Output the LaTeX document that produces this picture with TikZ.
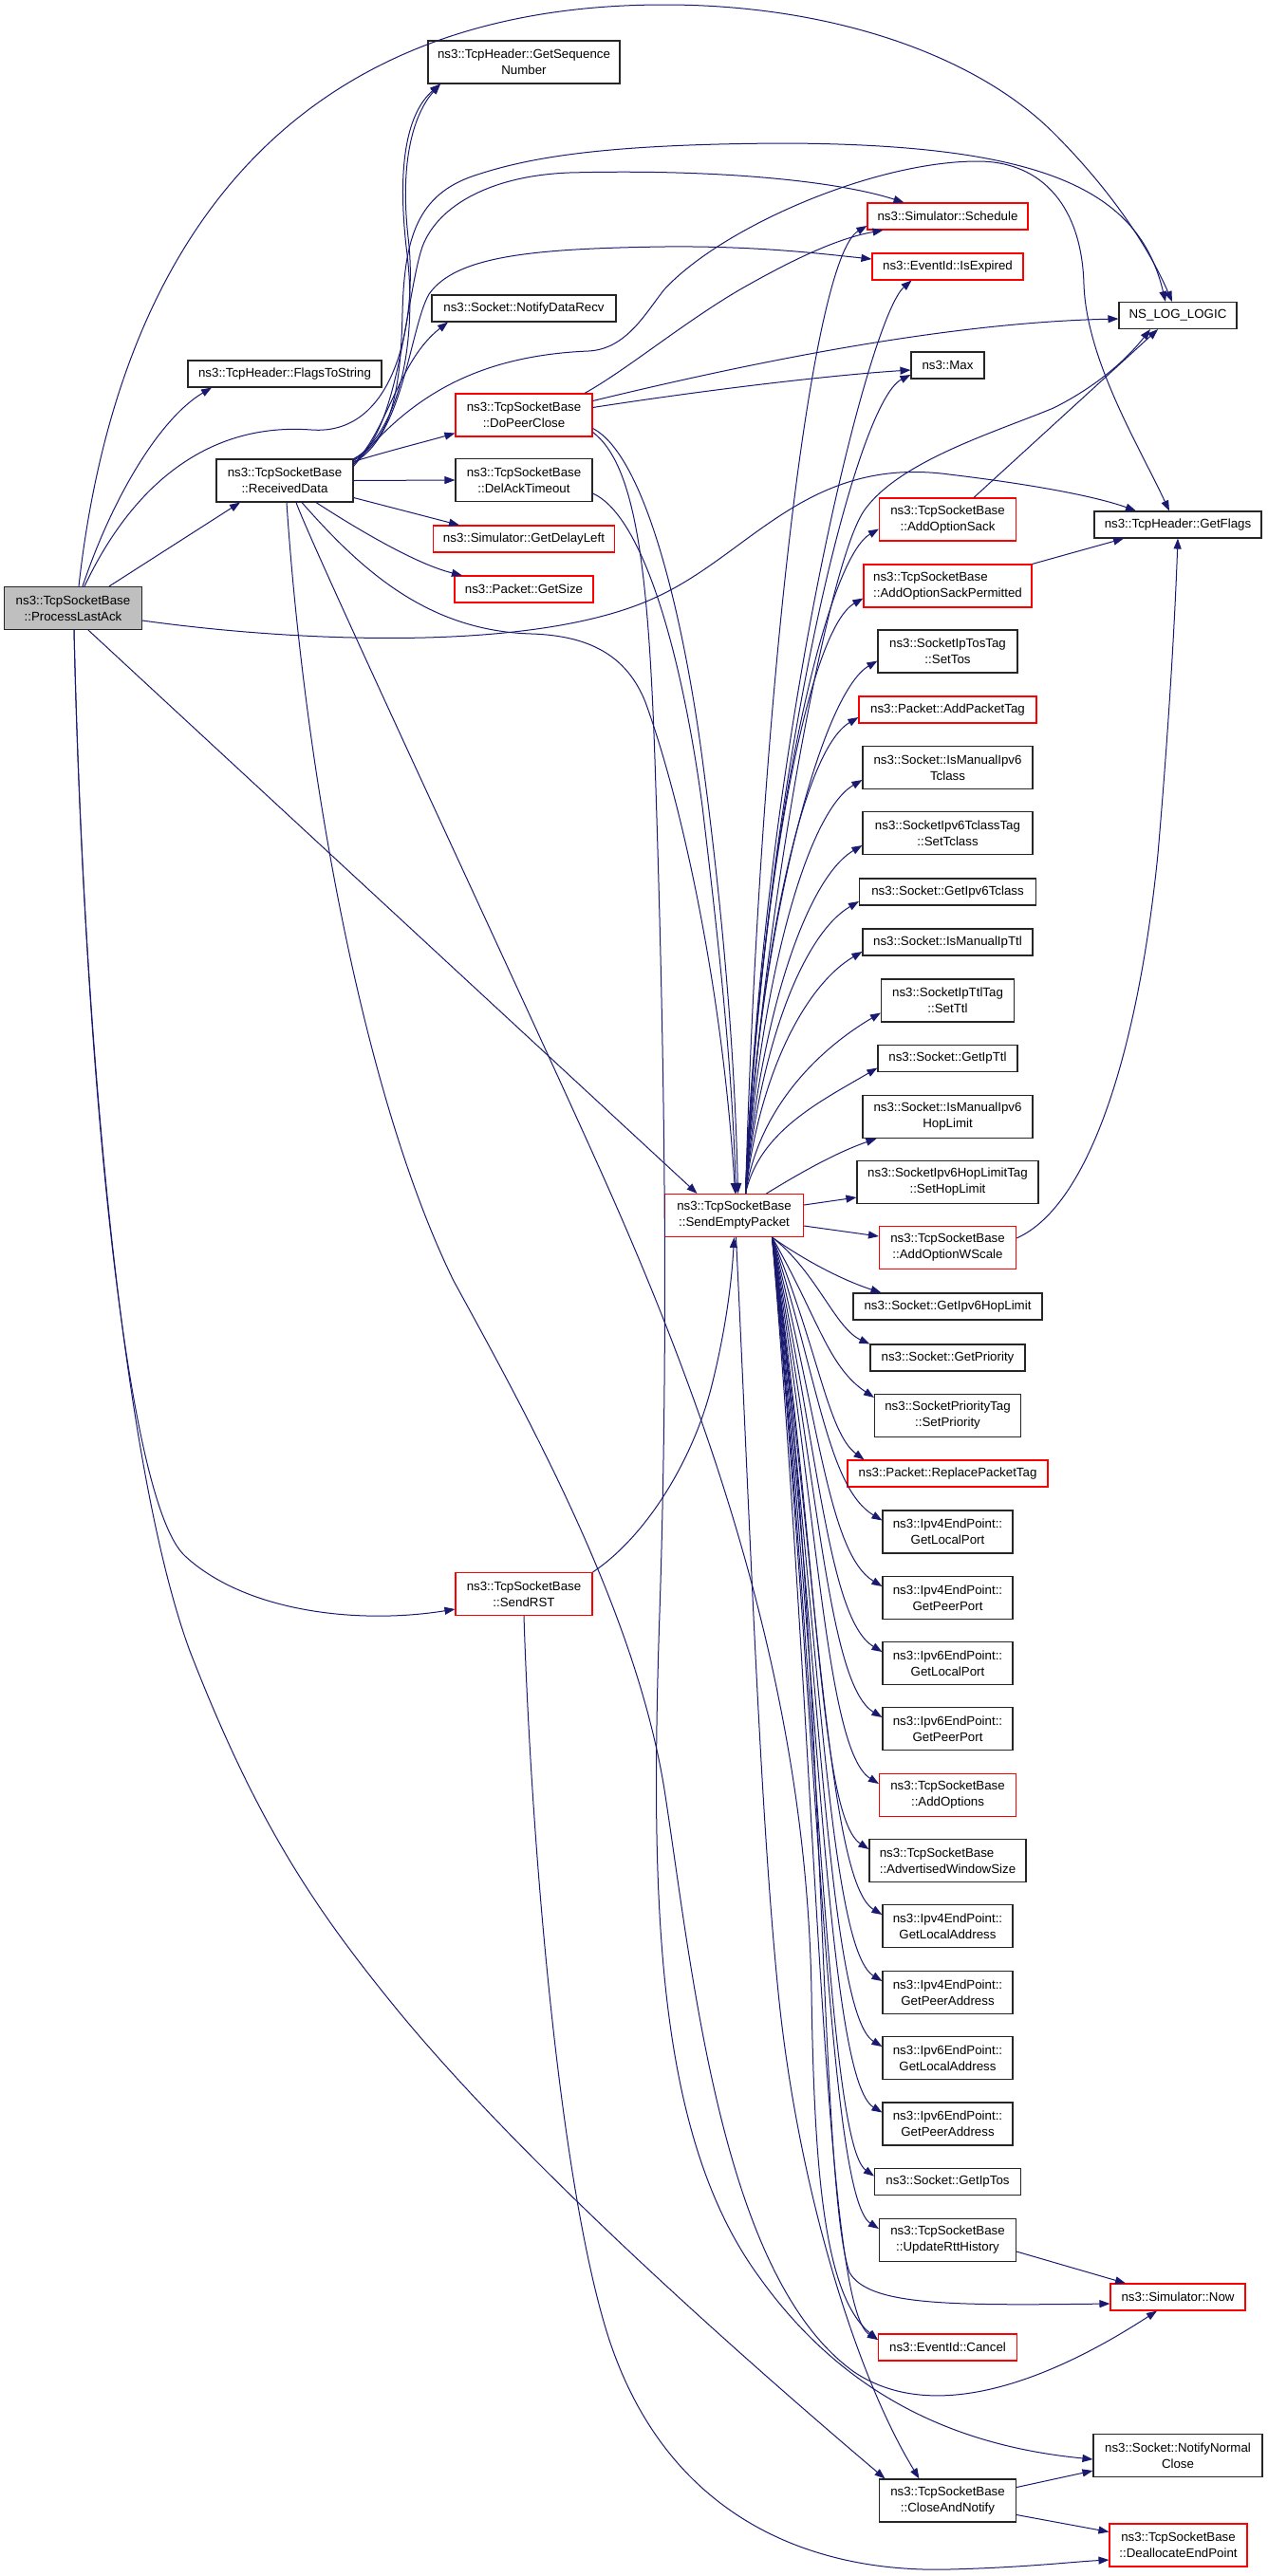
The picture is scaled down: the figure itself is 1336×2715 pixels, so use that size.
\documentclass[tikz,border=0pt]{standalone}
\usepackage{fontspec}
\setmainfont{Liberation Sans}
\usetikzlibrary{arrows.meta}
\definecolor{eblue}{RGB}{25,25,112}
\definecolor{bred}{RGB}{255,0,0}
\definecolor{bgray}{RGB}{191,191,191}
\newcommand{\nf}{\fontsize{13.3pt}{17pt}\selectfont}
\begin{document}
\begin{tikzpicture}[x=1pt,y=-1pt,
  box/.style={draw=black!85, line width=1.1pt, fill=white, inner sep=0pt, align=center, minimum height=28pt, font=\nf},
  two/.style={minimum height=45pt},
  rbox/.style={box, draw=bred},
  ar/.style={draw=eblue, line width=1pt, -{Triangle[length=11pt,width=8pt]}}]
\useasboundingbox (0,0) rectangle (1336,2715);

% ---- column 0-2
\node[box,fill=bgray,two,minimum width=145pt] (PLA) at (77,641) {ns3::TcpSocketBase\\::ProcessLastAck};
\node[box,minimum width=204pt] (FTS) at (300,394) {ns3::TcpHeader::FlagsToString};
\node[box,two,minimum width=144pt] (RD) at (300,506.5) {ns3::TcpSocketBase\\::ReceivedData};
\node[box,two,minimum width=202pt] (GSN) at (552,65.5) {ns3::TcpHeader::GetSequence\\Number};
\node[box,minimum width=194pt] (NDR) at (552,325) {ns3::Socket::NotifyDataRecv};
\node[rbox,two,minimum width=144pt] (DPC) at (552,437.5) {ns3::TcpSocketBase\\::DoPeerClose};
\node[box,two,minimum width=144pt] (DAT) at (552,506) {ns3::TcpSocketBase\\::DelAckTimeout};
\node[rbox,minimum width=191pt] (GDL) at (552,568) {ns3::Simulator::GetDelayLeft};
\node[rbox,minimum width=146pt] (GSZ) at (552,621) {ns3::Packet::GetSize};
\node[rbox,two,minimum width=144pt] (RST) at (552,1680) {ns3::TcpSocketBase\\::SendRST};
\node[rbox,two,minimum width=146pt] (SEP) at (773.5,1281) {ns3::TcpSocketBase\\::SendEmptyPacket};

% ---- column 4
\node[rbox,minimum width=169pt] (SCH) at (998.5,228) {ns3::Simulator::Schedule};
\node[rbox,minimum width=159pt] (ISE) at (998.5,281) {ns3::EventId::IsExpired};
\node[box,minimum width=77pt] (MAX) at (998.5,385) {ns3::Max};
\node[rbox,two,minimum width=144pt] (AOS) at (998.5,547.5) {ns3::TcpSocketBase\\::AddOptionSack};
\node[rbox,two,minimum width=177pt,align=left] (AOSP) at (998.5,617.5) {ns3::TcpSocketBase\\::AddOptionSackPermitted};
\node[box,two,minimum width=147pt] (STOS) at (998.5,686.5) {ns3::SocketIpTosTag\\::SetTos};
\node[rbox,minimum width=187pt] (APT) at (998.5,748) {ns3::Packet::AddPacketTag};
\node[box,two,minimum width=179pt] (IMI6T) at (998.5,809) {ns3::Socket::IsManualIpv6\\Tclass};
\node[box,two,minimum width=179pt] (STC) at (998.5,878) {ns3::SocketIpv6TclassTag\\::SetTclass};
\node[box,minimum width=186pt] (GI6T) at (998.5,940) {ns3::Socket::GetIpv6Tclass};
\node[box,minimum width=179pt] (IMIT) at (998.5,993) {ns3::Socket::IsManualIpTtl};
\node[box,two,minimum width=140pt] (STTL) at (998.5,1054.5) {ns3::SocketIpTtlTag\\::SetTtl};
\node[box,minimum width=147pt] (GIT) at (998.5,1115.5) {ns3::Socket::GetIpTtl};
\node[box,two,minimum width=179pt] (IMI6H) at (998.5,1177) {ns3::Socket::IsManualIpv6\\HopLimit};
\node[box,two,minimum width=191pt] (SHL) at (998.5,1246) {ns3::SocketIpv6HopLimitTag\\::SetHopLimit};
\node[rbox,two,minimum width=144pt] (AOWS) at (998.5,1315) {ns3::TcpSocketBase\\::AddOptionWScale};
\node[box,minimum width=199pt] (GI6H) at (998.5,1377) {ns3::Socket::GetIpv6HopLimit};
\node[box,minimum width=163pt] (GPRI) at (998.5,1431) {ns3::Socket::GetPriority};
\node[box,two,minimum width=154pt] (SPRI) at (998.5,1492) {ns3::SocketPriorityTag\\::SetPriority};
\node[rbox,minimum width=211pt] (RPT) at (998.5,1553) {ns3::Packet::ReplacePacketTag};
\node[box,two,minimum width=137pt] (V4LP) at (998.5,1614.5) {ns3::Ipv4EndPoint::\\GetLocalPort};
\node[box,two,minimum width=137pt] (V4PP) at (998.5,1684) {ns3::Ipv4EndPoint::\\GetPeerPort};
\node[box,two,minimum width=137pt] (V6LP) at (998.5,1753) {ns3::Ipv6EndPoint::\\GetLocalPort};
\node[box,two,minimum width=137pt] (V6PP) at (998.5,1822) {ns3::Ipv6EndPoint::\\GetPeerPort};
\node[rbox,two,minimum width=144pt] (AOPT) at (998.5,1892) {ns3::TcpSocketBase\\::AddOptions};
\node[box,two,minimum width=165pt,align=left] (AWS) at (998.5,1961) {ns3::TcpSocketBase\\::AdvertisedWindowSize};
\node[box,two,minimum width=137pt] (V4LA) at (998.5,2030) {ns3::Ipv4EndPoint::\\GetLocalAddress};
\node[box,two,minimum width=137pt] (V4PA) at (998.5,2100) {ns3::Ipv4EndPoint::\\GetPeerAddress};
\node[box,two,minimum width=137pt] (V6LA) at (998.5,2169) {ns3::Ipv6EndPoint::\\GetLocalAddress};
\node[box,two,minimum width=137pt] (V6PA) at (998.5,2238.5) {ns3::Ipv6EndPoint::\\GetPeerAddress};
\node[box,minimum width=154pt] (GTOS) at (998.5,2299.5) {ns3::Socket::GetIpTos};
\node[box,two,minimum width=144pt] (URH) at (998.5,2361) {ns3::TcpSocketBase\\::UpdateRttHistory};
\node[rbox,minimum width=146pt] (CAN) at (998.5,2474) {ns3::EventId::Cancel};
\node[box,two,minimum width=144pt] (CNF) at (998.5,2635.5) {ns3::TcpSocketBase\\::CloseAndNotify};

% ---- column 5
\node[box,minimum width=124pt] (NSL) at (1241,332.5) {NS\_LOG\_LOGIC};
\node[box,minimum width=176pt] (GF) at (1241,553) {ns3::TcpHeader::GetFlags};
\node[rbox,minimum width=142pt] (NOW) at (1241,2421) {ns3::Simulator::Now};
\node[box,two,minimum width=178pt] (NNC) at (1241,2588) {ns3::Socket::NotifyNormal\\Close};
\node[rbox,two,minimum width=145pt] (DEP) at (1241.5,2682.5) {ns3::TcpSocketBase\\::DeallocateEndPoint};

% ---- edges from ProcessLastAck
\draw[ar] ([xshift=6pt]PLA.north) .. controls (115,330) and (250,5) .. (700,5) .. controls (880,5) and (1030,60) .. (1110,140) .. controls (1170,200) and (1210,260) .. ([xshift=-6pt]NSL.north);
\draw[ar] ([xshift=10pt]PLA.north) .. controls (120,520) and (170,440) .. ([xshift=-77pt]FTS.south);
\draw[ar] ([xshift=12pt]PLA.north) .. controls (140,510) and (220,445) .. (328,453) .. controls (420,460) and (440,330) .. (430,250) .. controls (420,160) and (440,115) .. ([xshift=-88pt]GSN.south);
\draw[ar] ([xshift=38pt]PLA.north) -- ([xshift=-47pt]RD.south);
\draw[ar] ([yshift=-13pt]PLA.east) .. controls (300,675) and (560,690) .. (690,630) .. controls (790,585) and (850,480) .. (1000,500) .. controls (1100,512) and (1160,525) .. ([xshift=-44pt]GF.north);
\draw[ar] ([xshift=16pt]PLA.south) -- ([xshift=-39pt]SEP.north);
\draw[ar] ([xshift=1pt]PLA.south) .. controls (88,1100) and (130,1580) .. (195,1640) .. controls (260,1700) and (380,1712) .. ([yshift=-16pt]RST.west);
\draw[ar] ([xshift=1pt]PLA.south) .. controls (88,1100) and (130,1550) .. (200,1740) .. controls (270,1920) and (330,2010) .. (420,2120) .. controls (560,2290) and (800,2500) .. ([xshift=-66pt]CNF.north);

% ---- edges from ReceivedData
\draw[ar] (RD.north east) .. controls (410,465) and (422,420) .. (424,330) .. controls (426,250) and (440,205) .. (500,185) .. controls (560,165) and (640,152) .. (825,151) .. controls (1100,152) and (1200,200) .. ([xshift=-13pt]NSL.north);
\draw[ar] ([yshift=-2pt]RD.north east) .. controls (420,460) and (428,310) .. (445,260) .. controls (462,215) and (520,185) .. (600,182) .. controls (750,178) and (880,190) .. ([xshift=-46pt]SCH.north);
\draw[ar] ([yshift=-4pt]RD.north east) .. controls (425,460) and (432,345) .. (452,310) .. controls (480,270) and (560,262) .. (700,260) .. controls (800,259) and (870,268) .. ([yshift=8pt]ISE.west);
\draw[ar] ([yshift=-6pt]RD.north east) .. controls (410,450) and (420,380) .. ([xshift=-80pt]NDR.south);
\draw[ar] ([yshift=-1pt]RD.north east) .. controls (425,450) and (440,350) .. (428,260) .. controls (418,170) and (430,118) .. ([xshift=-88pt]GSN.south);
\draw[ar] ([yshift=-8pt]RD.north east) .. controls (430,420) and (500,375) .. (620,370) .. controls (660,368) and (680,330) .. (700,305) .. controls (760,240) and (920,170) .. (1030,170) .. controls (1100,170) and (1140,220) .. (1142,300) .. controls (1145,380) and (1200,470) .. ([xshift=-9pt]GF.north);
\draw[ar] ([yshift=-3pt]RD.north east) .. controls (410,475) and (450,465) .. ([yshift=4pt]DPC.south west);
\draw[ar] (RD.east) -- (DAT.west);
\draw[ar] ([yshift=-18pt]RD.east) -- ([xshift=-68pt]GDL.north);
\draw[ar] ([xshift=33pt]RD.south) .. controls (380,560) and (440,595) .. ([xshift=-65pt]GSZ.north);
\draw[ar] ([xshift=18pt]RD.south) .. controls (380,600) and (450,665) .. (560,668) .. controls (620,670) and (660,690) .. (680,740) .. controls (720,850) and (762,1050) .. ([xshift=1pt]SEP.north);
\draw[ar] ([xshift=2pt]RD.south) .. controls (320,800) and (380,1150) .. (478,1350) .. controls (560,1500) and (670,1700) .. (700,1886) .. controls (730,2080) and (760,2400) .. (900,2500) .. controls (990,2560) and (1120,2500) .. ([xshift=-22pt]NOW.south);
\draw[ar] ([xshift=12pt]RD.south) .. controls (330,580) and (560,1070) .. (640,1250) .. controls (760,1520) and (850,1800) .. (855,2100) .. controls (858,2300) and (870,2420) .. ([yshift=8pt]CAN.west);

% ---- edges from DoPeerClose / DelAckTimeout
\draw[ar] ([xshift=64pt]DPC.north) .. controls (660,390) and (720,340) .. (780,305) .. controls (850,265) and (890,250) .. ([xshift=-68pt]SCH.south);
\draw[ar] ([yshift=15pt]DPC.east) .. controls (800,380) and (1000,340) .. ([yshift=-3.5pt]NSL.west);
\draw[ar] ([yshift=8pt]DPC.east) .. controls (750,410) and (880,395) .. ([yshift=-5pt]MAX.west);
\draw[ar] ([yshift=-14pt]DPC.east) .. controls (680,480) and (720,650) .. (740,800) .. controls (760,950) and (774,1100) .. ([xshift=4pt]SEP.north);
\draw[ar] ([yshift=-18pt]DPC.east) .. controls (670,490) and (683,600) .. (690,800) .. controls (700,1100) and (705,1400) .. (695,1700) .. controls (685,2000) and (690,2250) .. (800,2400) .. controls (900,2540) and (1030,2580) .. ([yshift=-4pt]NNC.west);
\draw[ar] ([yshift=-14pt]DAT.east) .. controls (680,545) and (720,700) .. (740,850) .. controls (758,1000) and (771,1120) .. ([xshift=2pt]SEP.north);

% ---- SendRST / CloseAndNotify / misc
\draw[ar] (RST.north east) .. controls (680,1620) and (730,1540) .. (750,1460) .. controls (765,1400) and (771,1350) .. (SEP.south);
\draw[ar] (RST.south) .. controls (560,1950) and (590,2300) .. (640,2460) .. controls (700,2650) and (850,2712) .. (1000,2708) .. controls (1080,2706) and (1130,2700) .. ([yshift=-15.5pt]DEP.west);
\draw[ar] ([yshift=14pt]CNF.east) -- ([yshift=-16pt]NNC.west);
\draw[ar] ([yshift=-15pt]CNF.east) -- ([yshift=14pt]DEP.west);
\draw[ar] ([xshift=27.5pt]AOS.north) -- ([xshift=-21pt]NSL.south);
\draw[ar] (AOSP.north east) -- ([xshift=-57pt]GF.south);
\draw[ar] ([yshift=10pt]AOWS.east) .. controls (1150,1270) and (1200,1100) .. (1220,900) .. controls (1232,760) and (1238,650) .. (GF.south);
\draw[ar] ([yshift=-12pt]URH.east) -- ([xshift=-55pt]NOW.north);

% ---- SendEmptyPacket special edges
\draw[ar] ([xshift=12pt]SEP.north) .. controls (800,1000) and (870,590) .. (912,536) .. controls (950,485) and (1050,455) .. (1110,430) .. controls (1160,405) and (1190,375) .. ([xshift=-29pt]NSL.south);
\draw[ar] ([xshift=2pt]SEP.south) .. controls (790,1600) and (800,1900) .. (820,2100) .. controls (840,2300) and (900,2500) .. ([xshift=-30pt]CNF.north);
\draw[ar] ([xshift=40pt]SEP.south) .. controls (870,1700) and (862,2300) .. (895,2395) .. controls (915,2430) and (1000,2430) .. ([yshift=-7pt]NOW.west);
\draw[ar] ([yshift=11pt]SEP.east) -- ([yshift=-16pt]SHL.west);
\draw[ar] ([yshift=-11pt]SEP.east) -- ([yshift=12pt]AOWS.west);
\draw[ar] ([xshift=34pt]SEP.north) .. controls (840,1238) and (880,1215) .. ([xshift=-75pt]IMI6H.south);

% ---- SendEmptyPacket upward fan
\draw[ar] ([xshift=12pt]SEP.north) .. controls (800,748) and (854,273) .. ([yshift=-10pt]SCH.west);
\draw[ar] ([xshift=12pt]SEP.north) .. controls (805,776) and (915,335) .. ([xshift=-38pt]ISE.south);
\draw[ar] ([xshift=12pt]SEP.north) .. controls (805,826) and (900,425) .. ([yshift=-10pt]MAX.west);
\draw[ar] ([xshift=12pt]SEP.north) .. controls (800,908) and (866.5,592.5) .. ([yshift=-10pt]AOS.west);
\draw[ar] ([xshift=12pt]SEP.north) .. controls (800,944) and (850,665) .. ([yshift=-13pt]AOSP.west);
\draw[ar] ([xshift=12pt]SEP.north) .. controls (800,977) and (865,731.5) .. ([yshift=-10pt]STOS.west);
\draw[ar] ([xshift=12pt]SEP.north) .. controls (800,1007) and (845,791) .. ([yshift=-8pt]APT.west);
\draw[ar] ([xshift=12pt]SEP.north) .. controls (800,1040) and (849,857) .. ([yshift=-13pt]IMI6T.west);
\draw[ar] ([xshift=12pt]SEP.north) .. controls (800,1074.5) and (849,926) .. ([yshift=-13pt]STC.west);
\draw[ar] ([xshift=12pt]SEP.north) .. controls (800,1104) and (845.5,985) .. ([yshift=-10pt]GI6T.west);
\draw[ar] ([xshift=12pt]SEP.north) .. controls (800,1130.5) and (849,1038) .. ([yshift=-10pt]IMIT.west);
\draw[ar] ([xshift=12pt]SEP.north) .. controls (800,1163) and (868.5,1102.5) .. ([yshift=-13pt]STTL.west);
\draw[ar] ([xshift=12pt]SEP.north) .. controls (800,1192) and (865,1160.5) .. ([yshift=-10pt]GIT.west);

% ---- SendEmptyPacket downward fan
\draw[ar] ([xshift=40pt]SEP.south) .. controls (850,1330) and (890,1350) .. ([xshift=-70pt]GI6H.north);
\draw[ar] ([xshift=40pt]SEP.south) .. controls (860,1340) and (880,1400) .. (GPRI.north west);
\draw[ar] ([xshift=40pt]SEP.south) .. controls (862,1389) and (872,1440) .. ([yshift=-4pt]SPRI.north west);
\draw[ar] ([xshift=40pt]SEP.south) .. controls (862,1421) and (872,1510) .. ([xshift=-88pt]RPT.north);
\draw[ar] ([xshift=40pt]SEP.south) .. controls (862,1453) and (872,1567.5) .. ([yshift=12pt]V4LP.west);
\draw[ar] ([xshift=40pt]SEP.south) .. controls (862,1488) and (872,1637) .. ([yshift=12pt]V4PP.west);
\draw[ar] ([xshift=40pt]SEP.south) .. controls (862,1522.5) and (872,1706) .. ([yshift=12pt]V6LP.west);
\draw[ar] ([xshift=40pt]SEP.south) .. controls (862,1557) and (872,1775) .. ([yshift=12pt]V6PP.west);
\draw[ar] ([xshift=40pt]SEP.south) .. controls (862,1592) and (870,1845) .. ([yshift=12pt]AOPT.west);
\draw[ar] ([xshift=40pt]SEP.south) .. controls (862,1626.5) and (862,1914) .. ([yshift=12pt]AWS.west);
\draw[ar] ([xshift=40pt]SEP.south) .. controls (862,1661) and (872,1983) .. ([yshift=12pt]V4LA.west);
\draw[ar] ([xshift=40pt]SEP.south) .. controls (862,1696) and (872,2053) .. ([yshift=12pt]V4PA.west);
\draw[ar] ([xshift=40pt]SEP.south) .. controls (862,1730.5) and (872,2122) .. ([yshift=12pt]V6LA.west);
\draw[ar] ([xshift=40pt]SEP.south) .. controls (862,1765) and (872,2191.5) .. ([yshift=12pt]V6PA.west);
\draw[ar] ([xshift=40pt]SEP.south) .. controls (862,1799) and (872,2258.5) .. ([yshift=6pt]GTOS.west);
\draw[ar] ([xshift=40pt]SEP.south) .. controls (862,1826.5) and (872,2314) .. ([yshift=12pt]URH.west);
\draw[ar] ([xshift=40pt]SEP.south) .. controls (862,1885) and (868,2431) .. ([yshift=8pt]CAN.west);
\end{tikzpicture}
\end{document}
